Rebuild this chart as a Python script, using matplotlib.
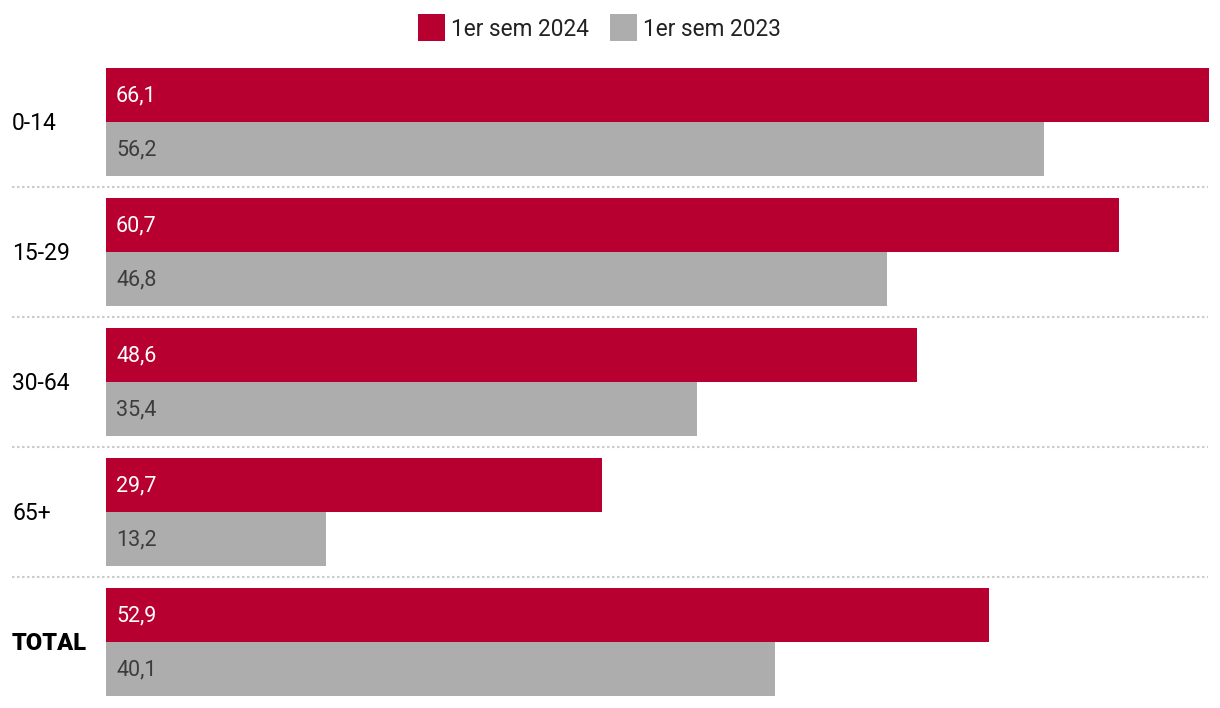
import matplotlib
matplotlib.use("Agg")
import matplotlib.pyplot as plt
from matplotlib.patches import Rectangle
from matplotlib.lines import Line2D

categories = ["0-14", "15-29", "30-64", "65+", "TOTAL"]
series_names = ["1er sem 2024", "1er sem 2023"]
values_2024 = [66.1, 60.7, 48.6, 29.7, 52.9]
values_2023 = [56.2, 46.8, 35.4, 13.2, 40.1]

RED = "#b7002f"
GRAY = "#adadad"
plt.rcParams['font.family'] = ['Roboto', 'DejaVu Sans']

W, H = 1220, 708
fig = plt.figure(figsize=(W / 100, H / 100), dpi=100)
ax = fig.add_axes([106 / W, 0, 1103 / W, 1])
ax.set_xlim(0, 66.1)
ax.set_ylim(H, 0)
ax.axis("off")

def fmt(v):
    return f"{v:.1f}".replace(".", ",")

bar_h = 54
dy = 1.0
for i, (cat, v1, v2) in enumerate(zip(categories, values_2024, values_2023)):
    c = 122 + 130 * i
    ax.barh(c - bar_h / 2, v1, height=bar_h, color=RED, linewidth=0)
    ax.barh(c + bar_h / 2, v2, height=bar_h, color=GRAY, linewidth=0)
    ax.text(0.6, c - bar_h / 2 + dy, fmt(v1), color="white", fontsize=15.5,
            va="center", ha="left")
    ax.text(0.6, c + bar_h / 2 + dy, fmt(v2), color="#3c3c3c", fontsize=15.5,
            va="center", ha="left")
    if cat == "TOTAL":
        fig.text(12 / W, 1 - (c + dy) / H, cat, fontsize=17, fontweight="heavy",
                 color="black", va="center", ha="left")
    else:
        fig.text(12 / W, 1 - (c + dy) / H, cat, fontsize=16.5,
                 color="black", va="center", ha="left")
    if i < len(categories) - 1:
        ys = 1 - (c + 65) / H
        fig.add_artist(Line2D([12 / W, 1208 / W], [ys, ys], color="#cccccc",
                              linewidth=1.5, linestyle=(0, (1.2, 1.2)),
                              transform=fig.transFigure))

# legend
legend_x = [418, 610]
for name, col, lx in zip(series_names, [RED, GRAY], legend_x):
    fig.add_artist(Rectangle((lx / W, 1 - 41 / H), 27 / W, 27 / H, color=col,
                             transform=fig.transFigure, linewidth=0))
    fig.text((lx + 33) / W, 1 - 29 / H, name, fontsize=16.3,
             va="center", ha="left", color="#222222")

fig.savefig("out.png", dpi=100)
